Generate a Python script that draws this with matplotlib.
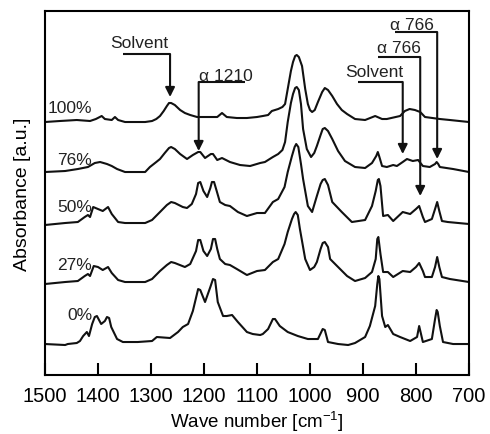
import matplotlib
matplotlib.use("Agg")
import matplotlib.pyplot as plt

plt.rcParams['font.family'] = ['Liberation Sans', 'DejaVu Sans']
plt.rcParams['mathtext.default'] = 'regular'

# ---- data (wavenumber [cm-1], absorbance relative to each trace baseline, a.u.) ----
labels = ["100%", "76%", "50%", "27%", "0%"]
offsets = [253, 203, 150, 91, 31]

wn_100 = [1500, 1472, 1440, 1415, 1404, 1393, 1387, 1374, 1368, 1362, 1349, 1311, 1298, 1290, 1283, 1276,
          1270, 1266, 1262, 1255, 1245, 1236, 1226, 1213, 1194, 1175, 1166, 1157, 1138, 1119, 1100, 1089,
          1079, 1072, 1060, 1052, 1047, 1042, 1036, 1032, 1028, 1025, 1021, 1015, 1009, 1004, 1000, 996,
          991, 985, 977, 972, 966, 958, 949, 940, 930, 915, 896, 877, 864, 855, 830, 821, 812, 802,
          792, 783, 755, 736, 700]
py_100 = [123, 122, 121, 122, 120, 117, 120, 121, 118, 121, 123, 123, 122, 120, 117, 112,
          107, 104, 104, 106, 111, 114, 116, 118, 118, 118, 114, 118, 119, 119, 118, 117,
          116, 112, 110, 108, 105, 90, 72, 63, 57, 56, 58, 67, 90, 105, 111, 113,
          111, 103, 93, 89, 91, 97, 105, 111, 115, 120, 121, 117, 120, 120, 117, 112, 110, 111,
          113, 118, 120, 121, 123]

wn_76 = [1500, 1462, 1438, 1419, 1406, 1396, 1383, 1374, 1364, 1349, 1311, 1302, 1290, 1283, 1274, 1266,
         1262, 1255, 1245, 1232, 1221, 1211, 1207, 1198, 1187, 1183, 1175, 1166, 1151, 1132, 1113, 1094,
         1085, 1070, 1060, 1052, 1047, 1042, 1036, 1032, 1028, 1025, 1021, 1017, 1013, 1006, 998, 992,
         987, 980, 976, 972, 966, 958, 947, 934, 915, 896, 883, 875, 872, 869, 864, 855, 843, 836,
         825, 817, 806, 796, 787, 774, 764, 761, 758, 755, 730, 700]
py_76 = [173, 172, 170, 168, 164, 163, 165, 167, 170, 173, 173, 168, 163, 160, 154, 149,
         148, 150, 155, 160, 156, 153, 153, 159, 155, 155, 161, 159, 163, 166, 167, 164,
         163, 158, 155, 151, 143, 123, 104, 95, 89, 88, 91, 105, 130, 150, 158, 154,
         147, 136, 130, 129, 132, 140, 152, 162, 168, 169, 164, 157, 153, 158, 167, 168, 166, 167,
         163, 160, 162, 161, 167, 168, 165, 163, 165, 168, 170, 173]

wn_50 = [1500, 1462, 1438, 1425, 1419, 1415, 1409, 1400, 1391, 1381, 1374, 1362, 1349, 1311, 1298, 1283,
         1270, 1262, 1255, 1240, 1232, 1223, 1215, 1211, 1207, 1201, 1194, 1188, 1185, 1181, 1176, 1170,
         1160, 1151, 1136, 1119, 1100, 1085, 1070, 1060, 1048, 1042, 1034, 1029, 1026, 1022, 1017, 1013,
         1004, 996, 987, 980, 976, 972, 966, 958, 940, 921, 896, 883, 876, 872, 870, 867, 862,
         853, 843, 825, 811, 800, 794, 787, 783, 770, 764, 760, 756, 751, 740, 700]
py_50 = [226, 224, 223, 218, 216, 218, 208, 210, 212, 208, 215, 223, 224, 224, 221, 213,
         206, 203, 204, 208, 209, 205, 195, 184, 183, 192, 198, 189, 183, 183, 192, 203,
         206, 207, 213, 217, 214, 214, 203, 200, 188, 173, 157, 148, 145, 148, 165, 180,
         207, 213, 197, 185, 181, 180, 186, 203, 213, 223, 221, 207, 192, 181, 180, 187, 217,
         216, 222, 213, 215, 210, 207, 218, 223, 220, 210, 203, 212, 222, 223, 225]

wn_27 = [1500, 1462, 1438, 1425, 1419, 1415, 1408, 1400, 1391, 1381, 1374, 1362, 1349, 1311, 1298, 1283,
         1270, 1262, 1255, 1236, 1226, 1215, 1211, 1207, 1201, 1194, 1187, 1183, 1179, 1175, 1170, 1160,
         1151, 1138, 1119, 1100, 1085, 1070, 1060, 1048, 1042, 1034, 1030, 1027, 1023, 1019, 1009, 1000,
         992, 987, 980, 976, 972, 966, 962, 947, 930, 915, 896, 883, 876, 873, 871, 867, 862,
         853, 843, 825, 811, 800, 794, 787, 783, 770, 764, 760, 756, 751, 736, 700]
py_27 = [285, 283, 282, 277, 275, 277, 267, 268, 271, 268, 274, 281, 283, 283, 280, 272,
         266, 263, 264, 268, 265, 252, 241, 241, 252, 257, 250, 240, 240, 250, 260, 265,
         266, 270, 276, 272, 271, 263, 260, 245, 233, 220, 215, 213, 216, 230, 260, 271,
         268, 263, 250, 244, 243, 248, 260, 268, 277, 282, 279, 273, 260, 240, 238, 255, 273,
         273, 278, 272, 273, 268, 264, 272, 278, 278, 268, 258, 268, 278, 280, 283]

wn_0 = [1500, 1462, 1457, 1440, 1434, 1428, 1421, 1417, 1411, 1406, 1402, 1394, 1387, 1383, 1379, 1375,
        1364, 1353, 1325, 1298, 1289, 1264, 1249, 1240, 1230, 1221, 1211, 1207, 1198, 1188, 1183, 1179,
        1174, 1164, 1157, 1147, 1136, 1119, 1108, 1094, 1089, 1079, 1070, 1066, 1057, 1042, 1023, 1004,
        985, 976, 972, 966, 947, 928, 915, 896, 887, 877, 873, 871, 869, 864, 858, 853, 843, 830,
        811, 798, 794, 787, 770, 764, 761, 759, 755, 749, 730, 700]
py_0 = [345, 346, 345, 344, 342, 337, 333, 337, 325, 318, 317, 325, 322, 318, 319, 328,
        340, 343, 343, 342, 338, 339, 333, 328, 325, 312, 290, 291, 303, 288, 280, 281,
        303, 317, 317, 316, 323, 333, 335, 336, 335, 330, 320, 320, 327, 333, 337, 340,
        340, 330, 331, 343, 345, 346, 344, 338, 327, 307, 285, 277, 280, 317, 328, 326, 335, 338,
        342, 338, 327, 343, 340, 320, 311, 313, 327, 343, 345, 345]

baselines_px = [123, 173, 226, 285, 345]
wn_sets = [wn_100, wn_76, wn_50, wn_27, wn_0]
abs_sets = [[b - p for p in ps] for b, ps in zip(baselines_px, [py_100, py_76, py_50, py_27, py_0])]

xticks = [1500, 1400, 1300, 1200, 1100, 1000, 900, 800, 700]

# ---- figure ----
fig = plt.figure(figsize=(4.9, 4.35), dpi=100)
ax = fig.add_axes([0.0918, 0.1356, 0.8653, 0.8368])

for wn, a, off in zip(wn_sets, abs_sets, offsets):
    ax.plot(wn, [v + off for v in a], color='#111111', lw=1.5, solid_joinstyle='round')

ax.set_xlim(1500, 700)
ax.set_ylim(0, 364)
ax.set_xticks(xticks)
ax.set_yticks([])
ax.tick_params(axis='x', direction='in', length=9, width=1.5, labelsize=14.5, pad=8)
for s in ax.spines.values():
    s.set_linewidth(1.5)

ax.set_xlabel('Wave number [cm$^{-1}$]', fontsize=13.5, labelpad=3)
ax.set_ylabel('Absorbance [a.u.]', fontsize=14, labelpad=10)

# trace labels
label_y = [263, 211, 164, 106, 56]
for lab, ly in zip(labels, label_y):
    ax.text(1411, ly, lab, ha='right', va='baseline', fontsize=12.5, color='#222222')

# annotations: (text, text_left_x, text_baseline_y, line_start_x, corner_x, line_y, tip_y)
annots = [
    ("Solvent", 1377, 328, 1353, 1264, 321, 278),
    ("\u03b1 1210", 1210, 295, 1123, 1210, 293, 224),
    ("Solvent", 934, 299, 909, 825, 293, 221),
    ("\u03b1 766", 874, 323, 872, 792, 318, 179),
    ("\u03b1 766", 849, 346, 840, 760, 343, 216),
]
for txt, tx, ty, x0, xc, ly, tip in annots:
    ax.text(tx, ty, txt, ha='left', va='baseline', fontsize=12.5, color='#222222')
    ax.plot([x0, xc], [ly, ly], color='#111111', lw=1.5, solid_capstyle='butt')
    ax.annotate('', xy=(xc, tip), xytext=(xc, ly),
                arrowprops=dict(arrowstyle='-|>', lw=1.5, color='#111111',
                                mutation_scale=14, shrinkA=0, shrinkB=0))

fig.savefig('out.png', dpi=100)
